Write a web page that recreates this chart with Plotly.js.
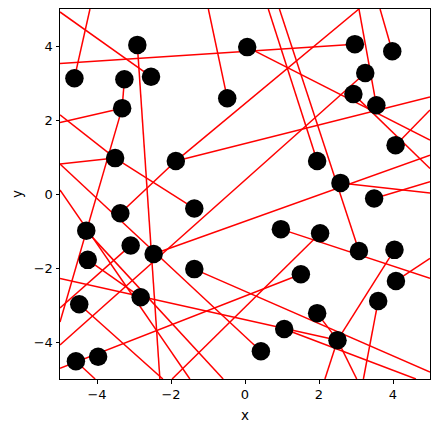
<!DOCTYPE html>
<html>
<head>
<meta charset="utf-8">
<script src="https://cdn.plot.ly/plotly-3.0.1.min.js"></script>
<style>html,body{margin:0;padding:0;background:#fff;}</style>
</head>
<body>
<div id="chart" style="width:439px;height:432px;"></div>
<script>
// Points (black markers)
var ptX = [-4.61,-2.91,-3.26,-2.54,-3.32,-0.48,0.06,-3.51,-1.87,-3.37,
           -1.37,-4.29,-3.09,-2.47,-4.25,-1.37,-4.48,-2.82,-4.57,-3.97,
            2.97,3.98,3.25,2.93,3.55,4.07,1.95,2.58,3.49,0.97,
            2.03,3.08,4.04,4.08,1.51,3.60,1.95,2.50,1.06,0.43];
var ptY = [3.13,4.03,3.10,3.17,2.32,2.59,3.97,0.97,0.89,-0.52,
           -0.39,-0.99,-1.39,-1.62,-1.78,-2.03,-2.98,-2.79,-4.52,-4.40,
            4.05,3.86,3.27,2.70,2.40,1.32,0.89,0.30,-0.12,-0.95,
           -1.06,-1.54,-1.51,-2.35,-2.17,-2.89,-3.22,-3.95,-3.65,-4.25];

// Red line segments (start -> end)
var segX0 = [-4.61,-5.00,-5.00,-2.91,-3.26,-3.32,-5.00,-5.00,-3.51,-5.00,
             -0.48,-1.87,-1.87,3.08,0.63,0.93,3.98,0.06,5.00,5.00,
              3.25,-1.87,-3.09,-5.00,2.58,3.49,0.97,2.03,-1.37,1.51,
             -4.29,-4.25,-4.48,-4.57,1.95,2.50,4.08,1.06,2.50,2.50,
              3.60,2.93,-5.00,-5.00];
var segY0 = [3.13,4.92,3.53,4.03,3.10,2.32,1.93,2.14,0.97,0.81,
             2.59,0.89,0.89,5.00,5.00,5.00,3.86,3.97,2.27,1.05,
             3.27,0.89,-1.39,-2.28,0.30,-0.12,-0.95,-1.06,-2.03,-2.17,
            -0.99,-1.78,-2.98,-4.52,-3.22,-3.95,-2.35,-3.65,-3.95,-3.95,
            -2.89,2.70,0.81,0.11];
var segX1 = [-4.19,-2.54,2.97,-2.30,-3.32,-5.00,-3.32,-3.51,-1.37,-3.51,
             -0.99,3.08,5.00,3.55,1.95,3.08,3.65,5.00,4.07,-2.47,
             -5.00,-3.37,-5.00,2.50,5.00,5.00,5.00,-1.97,5.00,-5.00,
             -0.59,-2.82,-2.22,-4.05,2.50,4.04,5.00,4.62,2.16,3.02,
              3.20,5.00,0.43,-1.49];
var segY1 = [5.00,3.17,4.05,-5.00,2.32,-3.46,2.32,0.97,-0.39,0.97,
             5.00,5.00,2.62,2.40,0.89,-1.54,5.00,1.46,1.32,-1.62,
            -4.08,-0.52,-3.08,-3.95,0.03,0.33,-2.28,-5.00,-4.81,-4.71,
            -5.00,-2.79,-5.00,-5.00,-3.95,-1.51,-1.74,-5.00,-5.00,-5.00,
            -5.00,0.69,-4.25,-5.00];

var lx = [], ly = [];
for (var i = 0; i < segX0.length; i++) {
  lx.push(segX0[i], segX1[i], null);
  ly.push(segY0[i], segY1[i], null);
}

var traces = [
  {x: lx, y: ly, mode: 'lines', type: 'scatter',
   line: {color: 'red', width: 1.5}, hoverinfo: 'skip', showlegend: false},
  {x: ptX, y: ptY, mode: 'markers', type: 'scatter',
   marker: {color: 'black', size: 18.5}, showlegend: false}
];

var axisCommon = {
  range: [-5, 5], showgrid: false, zeroline: false,
  showline: true, linecolor: 'black', linewidth: 1, mirror: true,
  ticks: 'outside', ticklen: 3.5, tickwidth: 1, tickcolor: 'black',
  tickvals: [-4, -2, 0, 2, 4],
  tickfont: {family: 'DejaVu Sans', size: 13, color: 'black'}
};

var layout = {
  width: 439, height: 432,
  margin: {l: 60, r: 9, t: 9, b: 53},
  paper_bgcolor: 'white', plot_bgcolor: 'white',
  xaxis: Object.assign({}, axisCommon, {
    title: {text: 'x', font: {family: 'DejaVu Sans', size: 13.5, color: 'black'}, standoff: 9}
  }),
  yaxis: Object.assign({}, axisCommon, {
    title: {text: 'y', font: {family: 'DejaVu Sans', size: 13.5, color: 'black'}, standoff: 8}
  }),
  showlegend: false
};

Plotly.newPlot('chart', traces, layout, {staticPlot: true, displayModeBar: false});
</script>
</body>
</html>
